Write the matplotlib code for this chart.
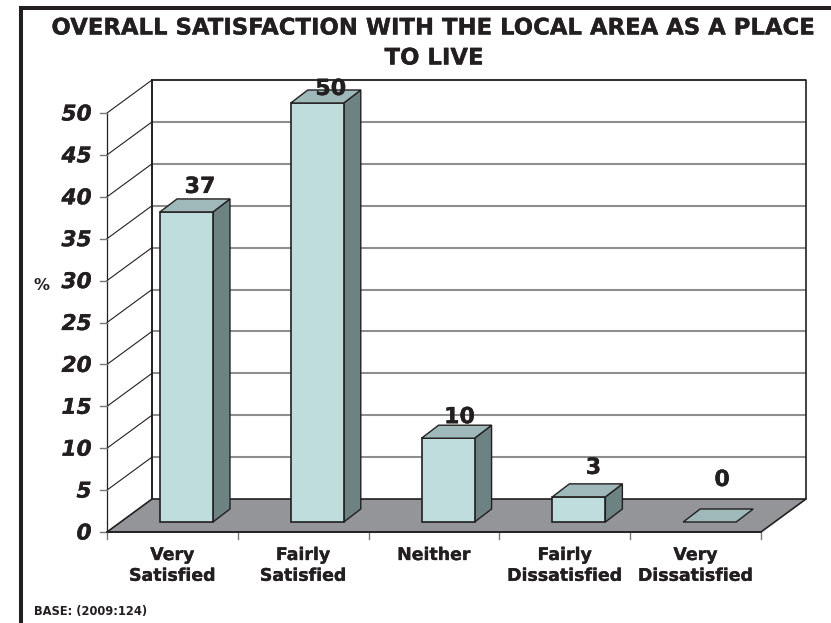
import matplotlib
matplotlib.use("Agg")
import matplotlib.pyplot as plt
import matplotlib.patheffects as pe
from matplotlib.patches import Polygon

categories = ["Very\nSatisfied", "Fairly\nSatisfied", "Neither", "Fairly\nDissatisfied", "Very\nDissatisfied"]
values = [37, 50, 10, 3, 0]
y_ticks = [0, 5, 10, 15, 20, 25, 30, 35, 40, 45, 50]

W, H = 831, 623
plt.rcParams["font.family"] = ["DejaVu Sans"]
fig = plt.figure(figsize=(W / 100, H / 100), dpi=100, facecolor="white")
HEAVY = [pe.withStroke(linewidth=0.22, foreground="#231f20")]

def px(x, y):
    return (x / W, 1 - y / H)

# frame
L, T = 21.3, 8
fig.add_artist(plt.Line2D([L / W, L / W, 1], [0, 1 - T / H, 1 - T / H], color="#231f20", lw=2.9, solid_joinstyle="miter"))
for label, cx, cy in [("OVERALL SATISFACTION WITH THE LOCAL AREA AS A PLACE", 433, 28), ("TO LIVE", 434, 58)]:
    fig.text(px(cx, 0)[0], px(0, cy)[1], label, ha="center", va="center", fontsize=16.4, fontweight="bold", color="#231f20", path_effects=HEAVY)
fig.text(*px(41.5, 286), "%", ha="center", va="center", fontsize=11.5, fontweight="bold", color="#231f20")
fig.text(*px(34, 611), "BASE: (2009:124)", ha="left", va="center", fontsize=8.3, fontweight="bold", color="#231f20")

# front plane of the 3D box
x0, x1, y0, y1 = 107, 761, 532, 113
ax = fig.add_axes([x0 / W, 1 - y0 / H, (x1 - x0) / W, (y0 - y1) / H])
ax.set_xlim(0, 5)
ax.set_ylim(0, 50)
ax.axis("off")

ux = (x1 - x0) / 5
uy = (y0 - y1) / 50
DX, DY = 45 / ux, 33 / uy       # wall depth
BX, BY = 17 / ux, 13 / uy       # bar depth
BASE = 10 / uy                  # bar base lift
BARW = 53 / ux
BAR_L = 0.405
DARK = "#231f20"
GRID = "#8e8e8e"
# vertical gap (px) from the back of each bar top to its label centre
label_gap = [12, 1, 8, 16, 29]
label_dx = [40, 40, 38, 41, 39]

def poly(pts, fc, ec=DARK, lw=1.0, z=2):
    ax.add_patch(Polygon(pts, closed=True, fc=fc, ec=ec, lw=lw, zorder=z, clip_on=False, joinstyle="miter"))

# floor
poly([(0, 0), (5, 0), (5 + DX, DY), (DX, DY)], "#939598", lw=1.2, z=1)
# back wall gridlines
for v in y_ticks[1:]:
    ax.plot([DX, 5 + DX], [v + DY, v + DY], color=GRID, lw=1.5, zorder=0.5, clip_on=False, solid_capstyle="butt")
    ax.plot([0, DX], [v, v + DY], color=DARK, lw=0.8, zorder=0.6, clip_on=False)
# walls
ax.plot([DX, DX], [DY, 50 + DY], color=DARK, lw=1.4, zorder=0.7, clip_on=False)
ax.plot([DX, 5 + DX, 5 + DX], [50 + DY, 50 + DY, DY], color=DARK, lw=1.2, zorder=0.7, clip_on=False)
ax.plot([0, 0], [0, 50], color=DARK, lw=0.9, zorder=0.7, clip_on=False)
ax.plot([0, 5], [0, 0], color=DARK, lw=1.2, zorder=1.5, clip_on=False)

# ticks
tick_len_x = 7 / uy
tick_len_y = 7 / ux
for v in y_ticks:
    ax.plot([-tick_len_y, 0], [v, v], color="#777777", lw=1.0, zorder=1, clip_on=False)
    ax.text(-15.5 / ux, v - 1.5 / uy, str(v), ha="right", va="center", fontsize=15.6, fontweight="bold", fontstyle="italic", color=DARK, path_effects=HEAVY)
for i in range(6):
    ax.plot([i, i], [-tick_len_x, 0], color="#777777", lw=1.0, zorder=1, clip_on=False)
for i, c in enumerate(categories):
    ax.text(i + 0.5, -14 / uy, c, ha="center", va="top", fontsize=12.5, fontweight="bold", color=DARK, linespacing=1.2, path_effects=HEAVY)

# bars
for i, v in enumerate(values):
    l = i + BAR_L
    r = l + BARW
    b = BASE
    t = BASE + v
    if v > 0:
        poly([(r, b), (r + BX, b + BY), (r + BX, t + BY), (r, t)], "#6c8283", lw=1.0, z=3)
        poly([(l, b), (r, b), (r, t), (l, t)], "#bfdddc", lw=1.2, z=3)
    poly([(l, t), (r, t), (r + BX, t + BY), (l + BX, t + BY)], "#9fb9ba", lw=1.0, z=3)
    ax.text(l + label_dx[i] / ux, t + BY + label_gap[i] / uy, str(v), ha="center", va="center", fontsize=16, fontweight="bold", color=DARK, zorder=5, path_effects=HEAVY)

fig.savefig("out.png", dpi=100)
